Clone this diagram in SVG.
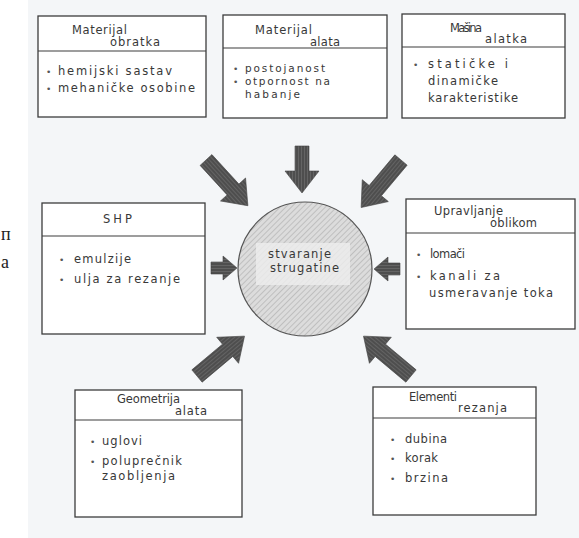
<svg xmlns="http://www.w3.org/2000/svg" width="579" height="538" viewBox="0 0 579 538">
<defs>
<pattern id="hatchC" patternUnits="userSpaceOnUse" width="4" height="4" patternTransform="rotate(45)">
<rect width="4" height="4" fill="#dcdcdc"/>
<line x1="0" y1="0" x2="0" y2="4" stroke="#9c9c9c" stroke-width="0.9"/>
</pattern>
<pattern id="hatchA" patternUnits="userSpaceOnUse" width="3" height="3" patternTransform="rotate(90)">
<rect width="3" height="3" fill="#4e4e4e"/>
<line x1="0" y1="0" x2="0" y2="3" stroke="#7a7a7a" stroke-width="1"/>
</pattern>
<path id="arrowL" d="M0,-8 H40 V-17 L62,0 L40,17 V8 H0 Z"/>
<path id="arrowM" d="M0,-7 H25 V-17 L47,0 L25,17 V7 H0 Z"/>
<path id="arrowS" d="M0,-6 H12 V-12 L26,0 L12,12 V6 H0 Z"/>
</defs>
<style>
.box{fill:#ffffff;stroke:#3c3c3c;stroke-width:1.3}
.sep{stroke:#3c3c3c;stroke-width:1.2}
.t{font-family:"DejaVu Sans","Liberation Sans",sans-serif;font-size:11.5px;fill:#383838}
.s{font-size:10.5px}
.b{font-family:"DejaVu Sans",sans-serif;font-size:9px;fill:#555}
.arr{fill:url(#hatchA);stroke:#444;stroke-width:0.6}
</style>
<rect x="0" y="0" width="579" height="538" fill="#ffffff"/>
<rect x="28" y="0" width="551" height="538" fill="#f4f6f8"/>
<text x="1" y="240" font-family="Liberation Serif,serif" font-size="18" fill="#222">п</text>
<text x="1" y="268" font-family="Liberation Serif,serif" font-size="18" fill="#222">а</text>

<g id="materijal-obratka">
<rect class="box" x="38" y="16" width="168" height="101"/>
<line class="sep" x1="38" y1="51" x2="206" y2="51"/>
<text class="t" x="72" y="34" textLength="55" lengthAdjust="spacing">Materijal</text>
<text class="t" x="110" y="46" textLength="50" lengthAdjust="spacing">obratka</text>
<text class="b" x="46" y="75">•</text>
<text class="t" x="58" y="75" textLength="114" lengthAdjust="spacing">hemijski  sastav</text>
<text class="b" x="46" y="92">•</text>
<text class="t" x="58" y="92" textLength="137" lengthAdjust="spacing">mehaničke  osobine</text>
</g>

<g id="materijal-alata">
<rect class="box" x="223" y="15" width="164" height="103"/>
<line class="sep" x1="223" y1="48" x2="387" y2="48"/>
<text class="t" x="255" y="34" textLength="57" lengthAdjust="spacing">Materijal</text>
<text class="t" x="310" y="46" textLength="30" lengthAdjust="spacing">alata</text>
<text class="b" x="233" y="72">•</text>
<text class="t s" x="245" y="72" textLength="80" lengthAdjust="spacing">postojanost</text>
<text class="b" x="233" y="85">•</text>
<text class="t s" x="245" y="85" textLength="85" lengthAdjust="spacing">otpornost  na</text>
<text class="t s" x="245" y="98" textLength="55" lengthAdjust="spacing">habanje</text>
</g>

<g id="masina-alatka">
<rect class="box" x="402" y="14" width="163" height="104"/>
<line class="sep" x1="402" y1="47" x2="565" y2="47"/>
<text class="t" x="450" y="32" textLength="32" lengthAdjust="spacing">Mašina</text>
<text class="t" x="485" y="43" textLength="42" lengthAdjust="spacing">alatka</text>
<text class="b" x="413" y="68">•</text>
<text class="t" x="428" y="68" textLength="80" lengthAdjust="spacing">statičke    i</text>
<text class="t" x="428" y="85" textLength="70" lengthAdjust="spacing">dinamičke</text>
<text class="t" x="428" y="102" textLength="90" lengthAdjust="spacing">karakteristike</text>
</g>

<g id="shp">
<rect class="box" x="42" y="203" width="163" height="131"/>
<line class="sep" x1="42" y1="236" x2="205" y2="236"/>
<text class="t" x="103" y="223" textLength="29" lengthAdjust="spacing">SHP</text>
<text class="b" x="59" y="263">•</text>
<text class="t" x="74" y="263" textLength="57" lengthAdjust="spacing">emulzije</text>
<text class="b" x="59" y="283">•</text>
<text class="t" x="74" y="283" textLength="106" lengthAdjust="spacing">ulja  za  rezanje</text>
</g>

<g id="upravljanje-oblikom">
<rect class="box" x="406" y="199" width="169" height="130"/>
<line class="sep" x1="406" y1="233" x2="575" y2="233"/>
<text class="t" x="434" y="215" textLength="69" lengthAdjust="spacing">Upravljanje</text>
<text class="t" x="490" y="227" textLength="47" lengthAdjust="spacing">oblikom</text>
<text class="b" x="416" y="258">•</text>
<text class="t" x="430" y="258" textLength="35" lengthAdjust="spacing">lomači</text>
<text class="b" x="416" y="280">•</text>
<text class="t" x="430" y="280" textLength="70" lengthAdjust="spacing">kanali   za</text>
<text class="t" x="429" y="297" textLength="124" lengthAdjust="spacing">usmeravanje   toka</text>
</g>

<g id="geometrija-alata">
<rect class="box" x="75" y="390" width="167" height="127"/>
<line class="sep" x1="75" y1="420" x2="242" y2="420"/>
<text class="t" x="117" y="403" textLength="63" lengthAdjust="spacing">Geometrija</text>
<text class="t" x="175" y="415" textLength="32" lengthAdjust="spacing">alata</text>
<text class="b" x="90" y="445">•</text>
<text class="t" x="102" y="445" textLength="40" lengthAdjust="spacing">uglovi</text>
<text class="b" x="90" y="465">•</text>
<text class="t" x="102" y="465" textLength="80" lengthAdjust="spacing">poluprečnik</text>
<text class="t" x="102" y="480" textLength="73" lengthAdjust="spacing">zaobljenja</text>
</g>

<g id="elementi-rezanja">
<rect class="box" x="373" y="387" width="163" height="128"/>
<line class="sep" x1="373" y1="418" x2="536" y2="418"/>
<text class="t" x="409" y="401" textLength="48" lengthAdjust="spacing">Elementi</text>
<text class="t" x="458" y="412" textLength="49" lengthAdjust="spacing">rezanja</text>
<text class="b" x="390" y="443">•</text>
<text class="t" x="405" y="443" textLength="42" lengthAdjust="spacing">dubina</text>
<text class="b" x="390" y="462">•</text>
<text class="t" x="405" y="462" textLength="33" lengthAdjust="spacing">korak</text>
<text class="b" x="390" y="482">•</text>
<text class="t" x="405" y="482" textLength="43" lengthAdjust="spacing">brzina</text>
</g>

<g id="stvaranje-strugotine">
<circle cx="305" cy="269" r="67" fill="url(#hatchC)" stroke="#555" stroke-width="1.2"/>
<rect x="256" y="243" width="94" height="42" fill="#eeeeee" opacity="0.8"/>
<text class="t" x="268" y="258" textLength="63" lengthAdjust="spacing">stvaranje</text>
<text class="t" x="270" y="272" textLength="69" lengthAdjust="spacing">strugatine</text>
</g>

<g id="connectors">
<use href="#arrowL" class="arr" transform="translate(206,160) rotate(47.5)"/>
<use href="#arrowM" class="arr" transform="translate(302,146) rotate(90)"/>
<use href="#arrowL" class="arr" transform="translate(401,160) rotate(130)"/>
<use href="#arrowS" class="arr" transform="translate(211,268)"/>
<use href="#arrowS" class="arr" transform="translate(400,269) rotate(180)"/>
<use href="#arrowL" class="arr" transform="translate(197,376) rotate(-40)"/>
<use href="#arrowL" class="arr" transform="translate(411,376) rotate(-140)"/>
</g>
</svg>
